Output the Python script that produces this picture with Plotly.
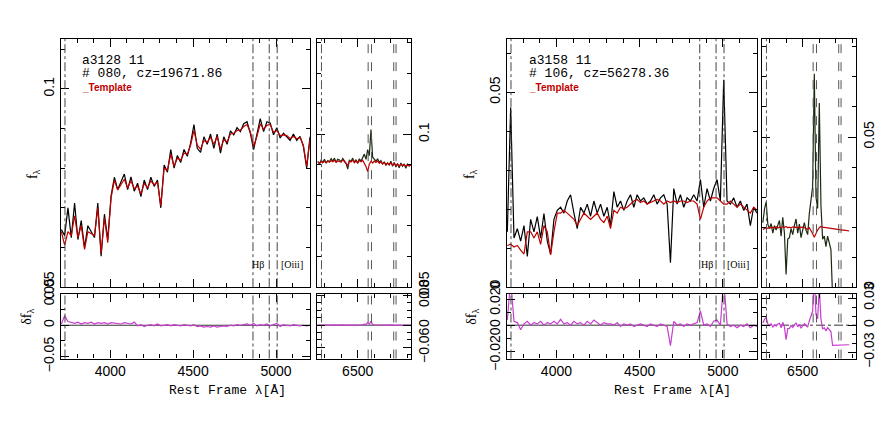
import numpy as np
import plotly.graph_objects as go

# page is 896x425; the browser body keeps an 8px margin, so the figure itself is smaller
PAGE_W, PAGE_H, PAD = 896, 425, 8
W, H = PAGE_W - 2 * PAD, PAGE_H - 2 * PAD

# rest-frame wavelength sampling (Angstrom)
wave_blue = np.arange(3705, 5206, 20)
wave_red_a = np.arange(6260, 6821, 10)
wave_red_b = np.arange(6260, 6781, 10)

# a3128 11, #080
flux_a_blue = [0.0645, 0.0630, 0.0700, 0.0625, 0.0712, 0.0620, 0.0668, 0.0600, 0.0655, 0.0640,
               0.0625, 0.0712, 0.0578, 0.0684, 0.0620, 0.0730, 0.0777, 0.0746, 0.0765, 0.0785,
               0.0746, 0.0778, 0.0742, 0.0762, 0.0728, 0.0770, 0.0746, 0.0777, 0.0754, 0.0770,
               0.0700, 0.0808, 0.0790, 0.0847, 0.0800, 0.0832, 0.0814, 0.0847, 0.0830, 0.0863,
               0.0910, 0.0850, 0.0840, 0.0879, 0.0860, 0.0886, 0.0850, 0.0886, 0.0838, 0.0879,
               0.0860, 0.0894, 0.0884, 0.0902, 0.0892, 0.0912, 0.0917, 0.0888, 0.0847, 0.0888,
               0.0925, 0.0892, 0.0917, 0.0914, 0.0884, 0.0902, 0.0876, 0.0888, 0.0878, 0.0870,
               0.0886, 0.0870, 0.0880, 0.0855, 0.0800, 0.0879]
tmpl_a_blue = [0.0640, 0.0606, 0.0640, 0.0630, 0.0680, 0.0625, 0.0655, 0.0595, 0.0640, 0.0635,
               0.0630, 0.0700, 0.0585, 0.0675, 0.0612, 0.0725, 0.0770, 0.0745, 0.0758, 0.0772,
               0.0750, 0.0768, 0.0748, 0.0755, 0.0735, 0.0762, 0.0750, 0.0768, 0.0758, 0.0765,
               0.0705, 0.0800, 0.0795, 0.0835, 0.0805, 0.0825, 0.0820, 0.0838, 0.0835, 0.0858,
               0.0895, 0.0858, 0.0848, 0.0870, 0.0865, 0.0878, 0.0860, 0.0880, 0.0848, 0.0872,
               0.0866, 0.0886, 0.0888, 0.0895, 0.0896, 0.0905, 0.0910, 0.0892, 0.0855, 0.0880,
               0.0912, 0.0898, 0.0908, 0.0910, 0.0890, 0.0895, 0.0882, 0.0884, 0.0882, 0.0875,
               0.0880, 0.0874, 0.0877, 0.0858, 0.0805, 0.0872]
resid_a_blue = [0.002, 0.015, 0.006, 0.004, 0.003, 0.005, 0.002, 0.004, 0.003, 0.005,
                0.002, 0.004, 0.003, 0.004, 0.002, 0.004, 0.003, 0.003, 0.002, 0.004,
                0.003, 0.002, 0.005, -0.001, 0.001, -0.002, 0.000, 0.001, -0.001, 0.002,
                -0.001, 0.000, 0.001, -0.001, 0.001, 0.000, -0.001, 0.001, 0.000, -0.001,
                0.001, -0.002, -0.001, -0.003, -0.002, -0.003, -0.001, -0.003, -0.002, -0.001,
                -0.002, 0.000, -0.001, 0.001, 0.000, 0.001, 0.002, 0.000, 0.003, -0.001,
                0.001, 0.000, 0.002, -0.001, 0.001, 0.003, -0.002, 0.001, 0.000, -0.001,
                0.001, 0.000, -0.001, 0.000, -0.001, 0.000]
flux_a_red = [0.0912, 0.0902, 0.0915, 0.0908, 0.0918, 0.0905, 0.0914, 0.0910, 0.0920, 0.0912,
              0.0922, 0.0908, 0.0918, 0.0916, 0.0910, 0.0921, 0.0913, 0.0905, 0.0886, 0.0915,
              0.0912, 0.0922, 0.0908, 0.0917, 0.0905, 0.0920, 0.0912, 0.0925, 0.0935, 0.0918,
              0.0950, 0.0930, 0.1015, 0.0925, 0.0918, 0.0912, 0.0920, 0.0908, 0.0914, 0.0902,
              0.0910, 0.0898, 0.0906, 0.0900, 0.0912, 0.0895, 0.0908, 0.0893, 0.0904, 0.0890,
              0.0906, 0.0895, 0.0903, 0.0889, 0.0902, 0.0896, 0.0900]
tmpl_a_red = [0.0908, 0.0906, 0.0910, 0.0907, 0.0912, 0.0908, 0.0911, 0.0909, 0.0914, 0.0910,
              0.0915, 0.0908, 0.0913, 0.0911, 0.0909, 0.0916, 0.0910, 0.0906, 0.0898, 0.0912,
              0.0909, 0.0916, 0.0907, 0.0913, 0.0906, 0.0914, 0.0910, 0.0915, 0.0905, 0.0895,
              0.0878, 0.0902, 0.0912, 0.0906, 0.0912, 0.0908, 0.0913, 0.0905, 0.0910, 0.0903,
              0.0908, 0.0901, 0.0906, 0.0900, 0.0907, 0.0899, 0.0905, 0.0897, 0.0903, 0.0896,
              0.0902, 0.0898, 0.0901, 0.0895, 0.0900, 0.0897, 0.0899]

# a3158 11, #106
flux_b_blue = [0.0142, 0.0461, 0.0126, 0.0150, 0.0118, 0.0158, 0.0079, 0.0174, 0.0142, 0.0181,
               0.0126, 0.0189, 0.0118, 0.0085, 0.0174, 0.0197, 0.0205, 0.0190, 0.0221, 0.0237,
               0.0190, 0.0150, 0.0205, 0.0190, 0.0213, 0.0182, 0.0221, 0.0190, 0.0213, 0.0182,
               0.0205, 0.0158, 0.0245, 0.0205, 0.0221, 0.0197, 0.0221, 0.0237, 0.0205, 0.0237,
               0.0221, 0.0229, 0.0213, 0.0221, 0.0237, 0.0213, 0.0229, 0.0237, 0.0213, 0.0063,
               0.0253, 0.0213, 0.0237, 0.0205, 0.0229, 0.0221, 0.0237, 0.0221, 0.0276, 0.0205,
               0.0253, 0.0221, 0.0253, 0.0276, 0.0221, 0.0532, 0.0221, 0.0213, 0.0229, 0.0205,
               0.0221, 0.0197, 0.0213, 0.0158, 0.0205, 0.0190]
tmpl_b_blue = [0.0107, 0.0110, 0.0103, 0.0107, 0.0095, 0.0085, 0.0142, 0.0142, 0.0126, 0.0142,
               0.0110, 0.0158, 0.0142, 0.0083, 0.0142, 0.0190, 0.0190, 0.0197, 0.0190, 0.0182,
               0.0174, 0.0158, 0.0174, 0.0190, 0.0182, 0.0174, 0.0182, 0.0190, 0.0174, 0.0166,
               0.0182, 0.0150, 0.0197, 0.0190, 0.0205, 0.0201, 0.0205, 0.0213, 0.0221, 0.0225,
               0.0217, 0.0221, 0.0213, 0.0217, 0.0221, 0.0225, 0.0221, 0.0213, 0.0221, 0.0217,
               0.0221, 0.0217, 0.0221, 0.0221, 0.0217, 0.0221, 0.0221, 0.0213, 0.0174, 0.0205,
               0.0221, 0.0229, 0.0229, 0.0229, 0.0221, 0.0213, 0.0213, 0.0221, 0.0213, 0.0205,
               0.0213, 0.0205, 0.0197, 0.0190, 0.0205, 0.0197]
resid_b_blue = [0.004, 0.035, 0.003, 0.002, -0.0035, 0.001, 0.003, 0.000, 0.002, 0.001,
                0.003, 0.000, 0.002, 0.001, 0.003, 0.001, 0.0045, 0.001, 0.002, 0.000,
                0.003, 0.001, 0.002, 0.000, 0.003, 0.001, 0.004, 0.002, 0.000, 0.002,
                0.001, 0.001, 0.000, 0.002, -0.001, 0.001, 0.000, 0.001, -0.001, 0.000,
                0.001, 0.000, -0.001, 0.001, 0.000, -0.001, 0.001, 0.000, -0.001, -0.0157,
                0.003, 0.000, 0.001, -0.001, 0.001, 0.000, 0.001, 0.002, 0.011, 0.000,
                0.001, -0.001, 0.003, 0.004, 0.000, 0.035, 0.001, -0.001, 0.000, -0.002,
                0.000, -0.001, 0.001, -0.002, 0.000, -0.001]
flux_b_red = [0.0215, 0.0260, 0.0284, 0.0210, 0.0195, 0.0212, 0.0180, 0.0205, 0.0190, 0.0210,
              0.0222, 0.0170, 0.0233, 0.0180, 0.0042, 0.0160, 0.0165, 0.0195, 0.0175, 0.0205,
              0.0227, 0.0180, 0.0210, 0.0165, 0.0195, 0.0215, 0.0190, 0.0175, 0.0245, 0.0290,
              0.0335, 0.0711, 0.0300, 0.0262, 0.0613, 0.0270, 0.0160, 0.0170, 0.0135, 0.0170,
              0.0150, 0.0125, -0.0030, -0.0030, -0.0030, -0.0030, -0.0030, -0.0030, -0.0030, -0.0030,
              -0.0030, -0.0030, -0.0030]
tmpl_b_red = [0.0192, 0.0195, 0.0198, 0.0196, 0.0199, 0.0197, 0.0200, 0.0198, 0.0201, 0.0197,
              0.0200, 0.0198, 0.0201, 0.0199, 0.0202, 0.0198, 0.0200, 0.0197, 0.0201, 0.0199,
              0.0200, 0.0198, 0.0201, 0.0199, 0.0200, 0.0198, 0.0196, 0.0193, 0.0198, 0.0190,
              0.0178, 0.0166, 0.0180, 0.0190, 0.0198, 0.0202, 0.0200, 0.0199, 0.0198, 0.0197,
              0.0196, 0.0196, 0.0195, 0.0194, 0.0193, 0.0193, 0.0192, 0.0191, 0.0190, 0.0190,
              0.0189, 0.0188, 0.0187]

lines_blue = [3727, 4861, 4959, 5007]
lines_red = [6282, 6563, 6583, 6717, 6731]
dash_red = ["dashdot", "dash", "dash", "dash", "dash"]

TICKFONT = dict(family="Liberation Sans", size=14, color="black")


def px(x):
    return (x - PAD) / W


def py(y):
    return 1 - (y - PAD) / H


def xax(dom, rng, anchor, labels):
    return dict(domain=[px(dom[0]), px(dom[1])], range=rng, anchor=anchor,
                showline=True, linecolor="black", linewidth=1.2, mirror="ticks",
                ticks="inside", ticklen=8, tickwidth=1, tickcolor="black",
                tick0=0, dtick=500, showgrid=False, zeroline=False,
                minor=dict(ticks="inside", ticklen=4, dtick=100, tick0=0, tickcolor="black"),
                showticklabels=labels, tickfont=TICKFONT)


def yax(dom, rng, anchor, vals, texts, minor, side="left"):
    return dict(domain=[py(dom[1]), py(dom[0])], range=rng, anchor=anchor, side=side,
                showline=True, linecolor="black", linewidth=1.2, mirror="ticks",
                ticks="inside", ticklen=8, tickwidth=1, tickcolor="black",
                tickvals=vals, ticktext=texts, tickangle=-90,
                showgrid=False, zeroline=False,
                minor=dict(ticks="inside", ticklen=4, dtick=minor, tick0=0, tickcolor="black"),
                tickfont=TICKFONT)


fig = go.Figure()

panels = [
    ("x", "y", wave_blue, flux_a_blue, "black"),
    ("x", "y", wave_blue, tmpl_a_blue, "#c00000"),
    ("x2", "y2", wave_red_a, flux_a_red, "#1c2a12"),
    ("x2", "y2", wave_red_a, tmpl_a_red, "#c00000"),
    ("x3", "y3", wave_blue, resid_a_blue, "#c83cd0"),
    ("x4", "y4", wave_red_a, np.array(flux_a_red) - np.array(tmpl_a_red), "#c83cd0"),
    ("x5", "y5", wave_blue, flux_b_blue, "black"),
    ("x5", "y5", wave_blue, tmpl_b_blue, "#c00000"),
    ("x6", "y6", wave_red_b, flux_b_red, "#1c2a12"),
    ("x6", "y6", wave_red_b, tmpl_b_red, "#c00000"),
    ("x7", "y7", wave_blue, resid_b_blue, "#c83cd0"),
    ("x8", "y8", wave_red_b, np.array(flux_b_red) - np.array(tmpl_b_red), "#c83cd0"),
]
for xa, ya, x, y, c in panels:
    fig.add_trace(go.Scatter(x=x, y=y, mode="lines", xaxis=xa, yaxis=ya,
                             line=dict(color=c, width=1.2), hoverinfo="skip"))

main_y, res_y = (24, 292), (299, 369)
rng_blue, rng_red = [3703, 5205], [6255, 6821]

layout = dict(
    xaxis=xax((61, 310), rng_blue, "y", False),
    yaxis=yax(main_y, [0.05, 0.1126], "x", [0.05, 0.1], ["0.05", "0.1"], 0.01),
    xaxis2=xax((317, 411), rng_red, "y2", False),
    yaxis2=yax(main_y, [0.05, 0.1312], "x2", [0.05, 0.1], ["0.05", "0.1"], 0.01, "right"),
    xaxis3=xax((61, 310), rng_blue, "y3", True),
    yaxis3=yax(res_y, [-0.053, 0.0503], "x3", [-0.05, 0, 0.05], ["\u22120.05", "0", "0.05"], 0.025),
    xaxis4=xax((317, 411), rng_red, "y4", True),
    yaxis4=yax(res_y, [-0.09, 0.085], "x4", [-0.06, 0, 0.08], ["\u22120.06", "0", "0.08"], 0.02, "right"),
    xaxis5=xax((507, 757), rng_blue, "y5", False),
    yaxis5=yax(main_y, [0, 0.0637], "x5", [0, 0.05], ["0", "0.05"], 0.01),
    xaxis6=xax((762, 856), rng_red, "y6", False),
    yaxis6=yax(main_y, [0, 0.0827], "x6", [0, 0.05], ["0", "0.05"], 0.01, "right"),
    xaxis7=xax((507, 757), rng_blue, "y7", True),
    yaxis7=yax(res_y, [-0.0257, 0.0243], "x7", [-0.02, 0, 0.02], ["\u22120.020", "0", "0.020"], 0.01),
    xaxis8=xax((762, 856), rng_red, "y8", True),
    yaxis8=yax(res_y, [-0.037, 0.035], "x8", [-0.03, 0, 0.03], ["\u22120.03", "0", "0.03"], 0.01, "right"),
)

shapes = []
for xa in ["x", "x3", "x5", "x7"]:
    for lam in lines_blue:
        shapes.append(dict(type="line", xref=xa, yref=xa.replace("x", "y") + " domain",
                           x0=lam, x1=lam, y0=0, y1=1,
                           line=dict(color="#444", width=1, dash="dashdot")))
for xa in ["x2", "x4", "x6", "x8"]:
    for lam, d in zip(lines_red, dash_red):
        shapes.append(dict(type="line", xref=xa, yref=xa.replace("x", "y") + " domain",
                           x0=lam, x1=lam, y0=0, y1=1,
                           line=dict(color="#555", width=1, dash=d)))
for xa, d in [("x3", "solid"), ("x4", "solid"), ("x7", "solid"), ("x8", "dashdot")]:
    ya = xa.replace("x", "y")
    shapes.append(dict(type="line", xref=xa + " domain", yref=ya, x0=0, x1=1, y0=0, y1=0,
                       line=dict(color="#333", width=1, dash=d), layer="below"))

mono = dict(family="Liberation Mono", size=13, color="black")
serif = dict(family="Liberation Serif", size=14, color="black")
small = dict(family="Liberation Serif", size=10, color="black")
red = dict(family="Liberation Sans", size=10, color="#c00000")

ann = []
for x0, name, obj in [(80, "a3128 11", "# 080, cz=19671.86"), (527, "a3158 11", "# 106, cz=56278.36")]:
    ann.append(dict(x=px(x0), y=py(47), text=name, font=mono, height=13))
    ann.append(dict(x=px(x0), y=py(61), text=obj, font=mono, height=13))
    ann.append(dict(x=px(x0), y=py(76), text="<b>_Template</b>", font=red, height=11))
for x, t in [(258, "H\u03b2"), (292, "[Oiii]"), (707, "H\u03b2"), (738, "[Oiii]")]:
    ann.append(dict(x=px(x), y=py(267), text=t, font=small, xanchor="center"))
for x, y, t in [(33, 170, "f<sub>\u03bb</sub>"), (470, 170, "f<sub>\u03bb</sub>"),
                (28, 324, "\u03b4f<sub>\u03bb</sub>"), (473, 324, "\u03b4f<sub>\u03bb</sub>")]:
    ann.append(dict(x=px(x), y=py(y), text=t, font=serif, textangle=-90, xanchor="center"))
for x in [227, 672]:
    ann.append(dict(x=px(x), y=py(404), text="Rest Frame \u03bb[\u00c5]", font=mono, xanchor="center"))
for a in ann:
    a.setdefault("xanchor", "left")
    a.update(xref="paper", yref="paper", yanchor="middle", showarrow=False)

fig.update_layout(**layout)
fig.update_layout(width=W, height=H, autosize=False, margin=dict(l=0, r=0, t=0, b=0),
                  paper_bgcolor="white", plot_bgcolor="white", showlegend=False,
                  shapes=shapes, annotations=ann)
fig.write_html("out.html")
